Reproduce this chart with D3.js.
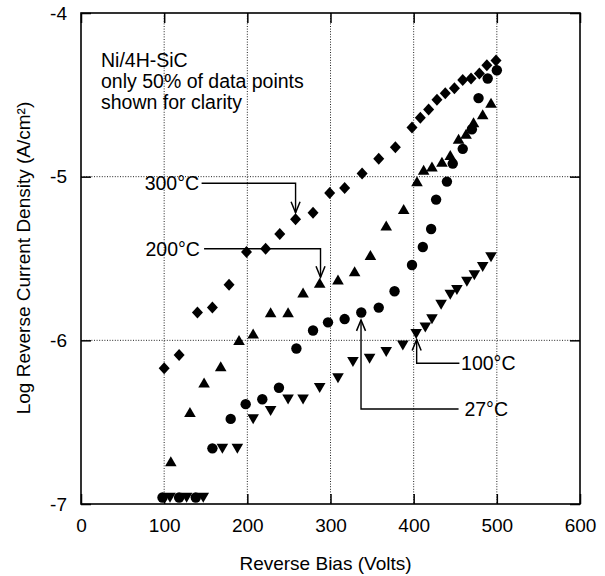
<!DOCTYPE html>
<html>
<head>
<meta charset="utf-8">
<script src="https://cdn.jsdelivr.net/npm/d3@7"></script>
<style>
  html, body { margin: 0; padding: 0; background: #fff; }
  svg { display: block; }
  text { font-family: "Liberation Sans", Arial, Helvetica, sans-serif; fill: #000; }
</style>
</head>
<body>
<svg id="chart" width="605" height="576"></svg>
<script>
// Reverse bias sweep (V) and log10 of reverse current density (A/cm^2)
const bias300 = [100,118,140,158,178,199,222,239,258,279,299,317,338,358,378,398,408,418,428,438,449,459,469,479,488,499];
const logJ300 = [-6.17,-6.09,-5.83,-5.80,-5.66,-5.46,-5.44,-5.35,-5.26,-5.22,-5.10,-5.07,-4.98,-4.89,-4.82,-4.70,-4.64,-4.59,-4.53,-4.49,-4.46,-4.41,-4.40,-4.37,-4.32,-4.29];

const bias200 = [108,131,148,168,190,207,228,249,267,287,309,329,348,367,388,404,412,422,434,444,454,463,472,483,493];
const logJ200 = [-6.74,-6.44,-6.26,-6.16,-6.00,-5.96,-5.83,-5.83,-5.71,-5.65,-5.63,-5.58,-5.48,-5.30,-5.20,-5.03,-4.96,-4.94,-4.91,-4.87,-4.77,-4.74,-4.67,-4.62,-4.55];

const bias100 = [107,127,147,170,188,207,228,249,267,287,309,327,347,367,387,403,414,422,433,444,452,464,473,483,493];
const logJ100 = [-6.96,-6.96,-6.96,-6.66,-6.66,-6.48,-6.43,-6.36,-6.36,-6.29,-6.23,-6.13,-6.11,-6.07,-6.03,-5.96,-5.92,-5.87,-5.78,-5.72,-5.69,-5.64,-5.60,-5.55,-5.49];

const bias27 = [98,118,138,158,180,198,218,238,259,279,297,317,337,358,377,398,411,421,427,440,447,459,470,478,489,500];
const logJ27 = [-6.96,-6.96,-6.96,-6.66,-6.48,-6.39,-6.36,-6.29,-6.05,-5.94,-5.89,-5.87,-5.83,-5.80,-5.70,-5.54,-5.43,-5.32,-5.14,-5.03,-4.92,-4.83,-4.71,-4.52,-4.40,-4.35];

// Axis ticks
const xTicks = [0,100,200,300,400,500,600];
const yTicks = [-7,-6,-5,-4];

// Temperature callouts: label, text end/start, elbow and arrow tip, in data units
const calloutLabels = ["300°C","200°C","100°C","27°C"];
const calloutSide   = ["left","left","right","right"];
const calloutTextX  = [142, 143, 457, 461];
const calloutLineY  = [-5.04, -5.44, -6.14, -6.42];
const calloutFromX  = [145, 148, 455, 454];
const calloutElbowX = [258, 288, 403.6, 336.7];
const calloutTipY   = [-5.22, -5.615, -5.995, -5.875];

const noteLines = ["Ni/4H-SiC", "only 50% of data points", "shown for clarity"];

const svg = d3.select("#chart");
const margin = {left: 81, right: 25, top: 13, bottom: 72};
const W = 605, H = 576;

const x = d3.scaleLinear().domain([0, 600]).range([margin.left, W - margin.right]);
const y = d3.scaleLinear().domain([-7, -4]).range([H - margin.bottom, margin.top]);

const x0 = x.range()[0], x1 = x.range()[1];
const y0 = y.range()[0], y1 = y.range()[1];

// Dotted grid
const grid = svg.append("g").attr("stroke", "#222").attr("stroke-width", 1).attr("stroke-dasharray", "1,1.6");
grid.selectAll("line.gx").data(xTicks.filter(d => d > 0 && d < 600)).join("line")
  .attr("x1", d => x(d)).attr("x2", d => x(d)).attr("y1", y1).attr("y2", y0);
grid.selectAll("line.gy").data(yTicks.filter(d => d > -7 && d < -4)).join("line")
  .attr("x1", x0).attr("x2", x1).attr("y1", d => y(d)).attr("y2", d => y(d));

// Axes with inward ticks on all four sides
const fontSize = 19;
const axisBottomG = svg.append("g").attr("transform", `translate(0,${y0})`)
  .call(d3.axisBottom(x).tickValues(xTicks).tickSize(-10).tickPadding(15).tickFormat(d => String(d)));
const axisLeftG = svg.append("g").attr("transform", `translate(${x0},0)`)
  .call(d3.axisLeft(y).tickValues(yTicks).tickSize(-10).tickPadding(14).tickFormat(d => String(d)));
const axisTopG = svg.append("g").attr("transform", `translate(0,${y1})`)
  .call(d3.axisTop(x).tickValues(xTicks).tickSize(-10).tickFormat(""));
const axisRightG = svg.append("g").attr("transform", `translate(${x1},0)`)
  .call(d3.axisRight(y).tickValues(yTicks).tickSize(-10).tickFormat(""));
[axisBottomG, axisLeftG, axisTopG, axisRightG].forEach(g => {
  g.select(".domain").remove();
  g.selectAll(".tick line").attr("stroke", "#000").attr("stroke-width", 1.5);
  g.selectAll(".tick text").attr("font-size", fontSize)
    .attr("font-family", "'Liberation Sans', Arial, sans-serif").attr("fill", "#000");
});

// Frame
svg.append("rect").attr("x", x0).attr("y", y1).attr("width", x1 - x0).attr("height", y0 - y1)
  .attr("fill", "none").attr("stroke", "#000").attr("stroke-width", 1.6);

// Axis titles
svg.append("text").attr("x", (x0 + x1) / 2 - 5).attr("y", 570).attr("text-anchor", "middle")
  .attr("font-size", fontSize).text("Reverse Bias (Volts)");
svg.append("text").attr("transform", "translate(30,258) rotate(-90)").attr("text-anchor", "middle")
  .attr("font-size", fontSize).text("Log Reverse Current Density (A/cm²)");

// Note
svg.append("g").selectAll("text").data(noteLines).join("text")
  .attr("x", 101).attr("y", (d, i) => 67 + i * 21).attr("font-size", 19.5).text(d => d);

// Callouts (drawn under the markers)
const callouts = calloutLabels.map((label, i) => ({
  label, side: calloutSide[i], textX: calloutTextX[i], lineY: calloutLineY[i],
  fromX: calloutFromX[i], elbowX: calloutElbowX[i], tipY: calloutTipY[i]
}));
const cg = svg.append("g");
callouts.forEach(c => {
  const ly = y(c.lineY), ex = x(c.elbowX), ty = y(c.tipY);
  cg.append("path")
    .attr("d", `M${x(c.fromX)},${ly}H${ex}V${ty}`)
    .attr("fill", "none").attr("stroke", "#000").attr("stroke-width", 1.4);
  const dir = ty > ly ? -1 : 1; // wings point back along the shaft
  cg.append("path")
    .attr("d", `M${ex - 4.5},${ty + dir * 11}L${ex},${ty}L${ex + 4.5},${ty + dir * 11}`)
    .attr("fill", "none").attr("stroke", "#000").attr("stroke-width", 1.5);
  cg.append("text")
    .attr("x", x(c.textX)).attr("y", ly).attr("dy", "0.36em")
    .attr("text-anchor", c.side === "left" ? "end" : "start")
    .attr("font-size", 19.5).text(c.label);
});

// Marker shapes
const shapes = {
  diamond: "M0,-6L5.5,0L0,6L-5.5,0Z",
  circle: d3.symbol(d3.symbolCircle, Math.PI * 5.2 * 5.2)(),
  up: "M0,-5.3L5.8,4.7L-5.8,4.7Z",
  down: "M0,5.3L5.8,-4.7L-5.8,-4.7Z"
};

const series = [
  {bias: bias100, logJ: logJ100, shape: "down"},
  {bias: bias27, logJ: logJ27, shape: "circle"},
  {bias: bias200, logJ: logJ200, shape: "up"},
  {bias: bias300, logJ: logJ300, shape: "diamond"}
];

series.forEach(s => {
  const pts = s.bias.map((b, i) => ({b, v: s.logJ[i]}));
  svg.append("g").selectAll("path").data(pts).join("path")
    .attr("transform", d => `translate(${x(d.b)},${y(d.v)})`)
    .attr("d", shapes[s.shape]).attr("fill", "#000");
});
</script>
</body>
</html>
